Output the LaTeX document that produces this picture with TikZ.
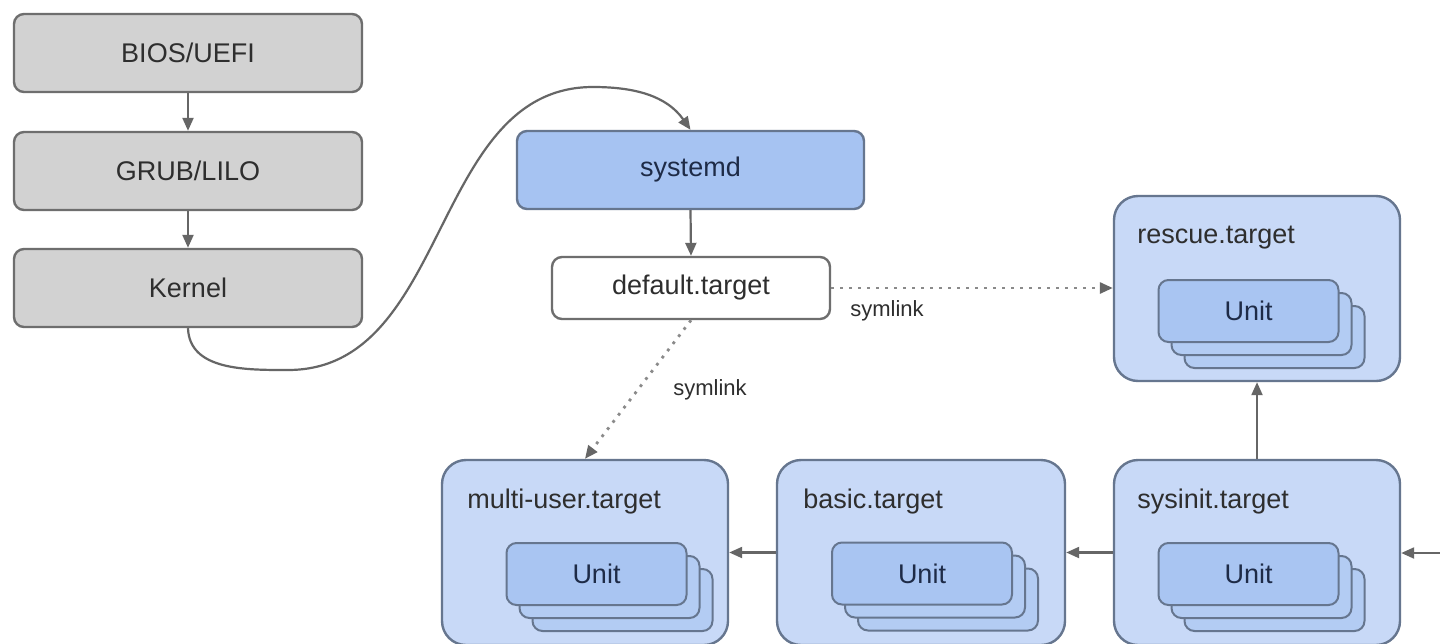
\documentclass[tikz,border=0pt]{standalone}
\usepackage{fontspec}
\setmainfont{Liberation Sans}
\usetikzlibrary{arrows.meta}
\definecolor{grayfill}{HTML}{D2D2D2}
\definecolor{grayline}{HTML}{6E6E6E}
\definecolor{sysfill}{HTML}{A6C3F2}
\definecolor{blueline}{HTML}{66768F}
\definecolor{tgtfill}{HTML}{C8D9F7}
\definecolor{unitfill}{HTML}{A9C5F2}
\definecolor{unitback}{HTML}{B3CCF3}
\definecolor{arrgray}{HTML}{666666}
\definecolor{dotgray}{HTML}{8A8A8A}
\definecolor{navy}{HTML}{1E2B47}
\definecolor{darktext}{HTML}{2E2E2E}
\newcommand{\ustack}[3]{%
  \node[unitbox, fill=unitback] (#1c) at (#2+26,#3+26) {};
  \node[unitbox, fill=unitback] (#1b) at (#2+13,#3+13) {};
  \node[unitbox] (#1a) at (#2,#3) {Unit};
}
\begin{document}
\begin{tikzpicture}[x=0.5pt,y=-0.5pt,
  font=\fontsize{13.5}{16}\selectfont,
  graybox/.style={draw=grayline, line width=1.2pt, fill=grayfill, rounded corners=5pt,
    minimum width=174pt, minimum height=39pt, inner sep=0pt, text=darktext},
  sysbox/.style={draw=blueline, line width=1.2pt, fill=sysfill, rounded corners=5pt,
    minimum width=173.5pt, minimum height=39pt, inner sep=0pt, text=navy},
  defbox/.style={draw=grayline, line width=1.2pt, fill=white, rounded corners=5pt,
    minimum width=139pt, minimum height=31pt, inner sep=0pt, text=darktext},
  tgtbox/.style={draw=blueline, line width=1.2pt, fill=tgtfill, rounded corners=12pt,
    minimum width=143pt, minimum height=92.5pt, inner sep=0pt},
  unitbox/.style={draw=blueline, line width=1pt, fill=unitfill, rounded corners=5pt,
    minimum width=90pt, minimum height=31pt, inner sep=0pt, text=navy},
  tlabel/.style={anchor=base west, inner sep=0pt, text=darktext},
  symlbl/.style={font=\fontsize{11}{13}\selectfont, inner sep=1pt, text=darktext},
  arr/.style={draw=arrgray, line width=1.1pt, -{Triangle[length=6.5pt,width=5.5pt]}},
  dotarr/.style={draw=dotgray, line width=1.4pt, dash pattern=on 1.4pt off 3.1pt,
    -{Triangle[length=6.5pt,width=5.5pt,color=arrgray]}}
]
\useasboundingbox (0,0) rectangle (1440,643);
\fill[white] (0,0) rectangle (1440,643);

% boot chain
\node[graybox] (bios) at (188,53) {BIOS/UEFI};
\node[graybox] (grub) at (188,171) {GRUB/LILO};
\node[graybox] (kernel) at (188,288) {Kernel};

% systemd
\node[sysbox] (systemd) at (690.5,170) {systemd};
\node[defbox] (default) at (691,288) {default.target};

% targets
\node[tgtbox] (rescue) at (1257,288.5) {};
\node[tgtbox] (sysinit) at (1257,552.5) {};
\node[tgtbox, minimum width=144pt] (basic) at (921,552.5) {};
\node[tgtbox] (multi) at (585,552.5) {};

\node[tlabel] (rescuelbl) at (1137,243) {rescue.target};
\node[tlabel] (sysinitlbl) at (1137,508) {sysinit.target};
\node[tlabel] (basiclbl) at (803,508) {basic.target};
\node[tlabel] (multilbl) at (467,508) {multi-user.target};

\ustack{ru}{1248.5}{311}
\ustack{su}{1248.5}{574}
\ustack{bu}{922}{573.5}
\ustack{mu}{596.5}{574}

% arrows
\draw[arr] (bios) -- (grub);
\draw[arr] (grub) -- (kernel);
\draw[arr] (systemd.south) -- (default.north);
\draw[arr] (sysinit) -- (rescue);
\draw[arr] (sysinit) -- (basic);
\draw[arr] (basic) -- (multi);
\coordinate (ext) at (1440,553);
\draw[arr] (ext) -- (sysinit.east |- ext);

\coordinate (c1) at (288,370);
\coordinate (c2) at (593,87);
\draw[arr] (kernel.south) to[out=-88,in=180] (c1) to[out=0,in=180] (c2) to[out=0,in=125] (systemd.north);

% symlinks
\draw[dotarr] (default.east) -- (rescue.west |- default.east);
\draw[dotarr] (default.south) -- (multi.north);
\node[symlbl] (sl1) at (887,311) {symlink};
\node[symlbl] (sl2) at (710,390) {symlink};
\end{tikzpicture}
\end{document}
